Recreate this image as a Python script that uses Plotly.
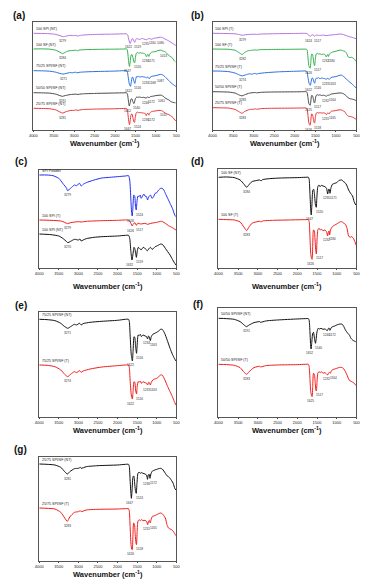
import numpy as np
import plotly.graph_objects as go

W, H = 383, 581

# ---------------- spectra: (wavenumber cm-1, relative transmittance a.u.) ----------------
SPI_POWDER = [(4000,100),(3800,100),(3650,98),(3500,90),(3400,75),(3300,60),(3279,53),(3200,60),
              (3100,70),(3050,68),(2970,75),(2930,67),(2880,72),(2800,77),(2600,85),(2400,91),
              (2200,93),(2000,95),(1800,97),(1720,98),(1690,85),(1660,25),(1640,-15),(1626,-23),
              (1610,0),(1585,40),(1560,35),(1545,10),(1524,-5),(1505,20),(1480,37),(1450,35),
              (1420,40),(1400,30),(1370,35),(1330,43),(1300,37),(1260,35),(1235,25),(1200,35),
              (1160,40),(1120,30),(1080,35),(1040,45),(1000,47),(950,55),(900,60),(860,60),
              (820,55),(780,45),(720,30),(660,15),(600,0),(540,-20),(510,-25)]

SPI_T = [(4000,100),(3700,99),(3450,97),(3350,93),(3279,89),(3200,92),(3000,95),(2930,94),
         (2800,96),(2400,98),(2000,99),(1750,100),(1700,98),(1660,90),(1626,82),(1600,88),
         (1560,92),(1517,84),(1490,90),(1400,88),(1300,90),(1235,87),(1150,90),(1000,93),
         (900,96),(850,95),(780,90),(700,83),(600,77),(510,70)]

SPI_NT = [(4000,100),(3700,98),(3500,94),(3400,87),(3300,77),(3270,74),(3200,78),(3100,84),
          (3000,82),(2960,85),(2930,79),(2880,82),(2800,86),(2600,90),(2400,92),(2000,94),
          (1800,96),(1720,96),(1690,87),(1660,47),(1632,22),(1610,37),(1580,60),(1560,56),
          (1540,42),(1519,30),(1500,47),(1470,60),(1440,57),(1400,52),(1370,57),(1330,60),
          (1290,55),(1235,50),(1200,56),(1160,60),(1120,54),(1080,57),(1040,62),(1000,64),
          (950,67),(900,70),(860,69),(820,64),(780,57),(720,47),(660,37),(600,24),(550,14),(510,7)]

SF_NT = [(4000,100),(3800,101),(3600,99),(3450,92),(3350,79),(3284,70),(3230,77),(3150,87),
         (3050,90),(2950,92),(2920,89),(2880,93),(2700,96),(2400,98),(2000,99),(1800,100),
         (1720,100),(1700,94),(1680,52),(1660,2),(1647,-13),(1630,17),(1605,62),(1585,64),
         (1560,42),(1540,17),(1520,10),(1505,37),(1480,72),(1450,77),(1420,72),(1390,76),
         (1350,74),(1300,72),(1260,67),(1230,50),(1205,64),(1190,64),(1171,52),(1150,67),
         (1110,79),(1050,82),(1000,84),(950,90),(900,92),(870,92),(830,87),(790,84),(750,77),
         (700,62),(650,52),(600,44),(560,27),(520,17)]

SF_T = [(4000,100),(3800,99),(3600,98),(3450,92),(3350,76),(3283,66),(3230,76),(3150,88),
        (3050,92),(2950,94),(2920,92),(2880,95),(2600,97),(2200,98),(1800,99),(1720,99),
        (1700,93),(1680,48),(1660,-2),(1640,-17),(1626,-20),(1610,18),(1590,68),(1570,66),
        (1550,38),(1530,3),(1517,-4),(1500,38),(1480,68),(1450,73),(1420,68),(1390,70),
        (1350,66),(1300,68),(1260,63),(1232,50),(1210,63),(1195,65),(1180,53),(1160,68),
        (1110,78),(1050,83),(1000,86),(950,90),(900,93),(860,92),(820,88),(780,85),(740,73),
        (700,50),(660,46),(620,48),(580,43),(540,33),(510,23)]

B7525_NT = [(4000,100),(3800,99),(3600,96),(3450,88),(3350,78),(3271,73),(3200,78),(3100,85),
            (3050,83),(2970,88),(2930,83),(2880,87),(2700,91),(2400,94),(2000,97),(1800,100),
            (1720,100),(1700,93),(1680,53),(1650,-7),(1622,-25),(1605,3),(1580,48),(1560,45),
            (1540,18),(1516,-2),(1500,23),(1475,53),(1450,51),(1420,55),(1390,48),(1350,53),
            (1300,50),(1260,48),(1234,41),(1210,50),(1190,47),(1163,36),(1140,48),(1100,55),
            (1050,58),(1000,61),(950,65),(900,70),(860,70),(820,63),(780,53),(720,33),(660,13),
            (600,-5),(550,-17),(510,-25)]

B7525_T = [(4000,100),(3800,99),(3600,95),(3450,85),(3350,72),(3274,65),(3200,72),(3100,80),
           (3050,77),(2970,83),(2930,78),(2880,82),(2700,88),(2400,94),(2000,98),(1800,100),
           (1720,100),(1700,92),(1680,55),(1650,10),(1622,-2),(1605,20),(1580,50),(1560,48),
           (1540,25),(1516,13),(1500,35),(1475,50),(1450,48),(1420,52),(1390,45),(1350,50),
           (1300,47),(1260,45),(1233,40),(1210,48),(1190,47),(1163,40),(1140,48),(1100,55),
           (1050,58),(1000,60),(950,65),(900,70),(860,70),(820,62),(780,52),(720,35),(660,20),
           (600,5),(550,-10),(510,-20)]

B5050_NT = [(4000,100),(3800,99),(3600,97),(3450,90),(3350,80),(3291,75),(3220,80),(3100,87),
            (2950,90),(2930,88),(2800,92),(2500,95),(2000,98),(1800,99),(1720,99),(1700,94),
            (1680,60),(1665,25),(1652,8),(1635,25),(1610,55),(1590,58),(1565,40),(1540,25),
            (1525,35),(1500,60),(1470,70),(1440,68),(1400,70),(1350,67),(1300,68),(1240,63),
            (1210,70),(1190,70),(1172,64),(1140,72),(1100,75),(1050,77),(1000,80),(950,82),
            (900,83),(860,82),(820,75),(780,65),(720,55),(680,50),(640,40),(600,35),(560,32),(520,30)]

B5050_T = [(4000,100),(3800,99),(3600,97),(3450,90),(3350,76),(3283,70),(3220,78),(3100,90),
           (2950,94),(2930,92),(2800,96),(2500,98),(2000,99),(1800,100),(1720,100),(1700,93),
           (1680,58),(1660,18),(1640,6),(1625,3),(1610,33),(1590,73),(1570,71),(1545,43),
           (1530,23),(1517,20),(1500,48),(1480,73),(1450,78),(1420,75),(1390,78),(1350,73),
           (1300,75),(1260,71),(1232,68),(1210,73),(1190,76),(1164,73),(1140,80),(1100,84),
           (1050,86),(1000,88),(950,90),(900,91),(860,90),(820,86),(780,78),(740,68),(700,56),
           (660,50),(620,48),(580,45),(540,41),(510,36)]

B2575_NT = [(4000,100),(3800,99),(3600,97),(3450,90),(3350,77),(3281,70),(3220,77),(3100,86),
            (3000,87),(2950,90),(2930,87),(2800,92),(2500,95),(2000,97),(1800,99),(1720,99),
            (1700,92),(1680,52),(1660,12),(1647,-3),(1630,22),(1605,62),(1585,64),(1560,37),
            (1540,17),(1524,12),(1505,42),(1480,72),(1450,76),(1420,72),(1390,74),(1350,72),
            (1300,70),(1260,67),(1236,54),(1215,67),(1195,69),(1172,57),(1150,70),(1110,79),
            (1050,82),(1000,84),(950,86),(900,87),(860,85),(820,79),(780,72),(740,65),(700,62),
            (660,57),(620,50),(580,42),(540,27),(510,22)]

B2575_T = [(4000,100),(3800,99),(3600,97),(3450,87),(3350,70),(3283,60),(3220,73),(3100,87),
           (3000,89),(2950,92),(2930,89),(2800,94),(2500,96),(2000,97),(1800,98),(1720,98),
           (1700,90),(1680,45),(1660,-5),(1640,-23),(1626,-25),(1610,10),(1590,55),(1570,52),
           (1550,20),(1530,-5),(1518,-10),(1500,30),(1480,60),(1450,65),(1420,62),(1390,65),
           (1350,62),(1300,63),(1260,60),(1231,50),(1210,60),(1190,63),(1165,55),(1145,65),
           (1110,75),(1050,77),(1000,80),(950,83),(900,85),(860,83),(820,77),(780,70),(740,50),
           (700,40),(660,37),(620,35),(580,30),(540,23),(510,17)]

SPECTRA = {"spi_powder": SPI_POWDER, "spi_t": SPI_T, "spi_nt": SPI_NT,
           "sf_nt": SF_NT, "sf_t": SF_T, "b7525_nt": B7525_NT, "b7525_t": B7525_T,
           "b5050_nt": B5050_NT, "b5050_t": B5050_T, "b2575_nt": B2575_NT, "b2575_t": B2575_T}

# ---------------- curve names and peak labels ----------------
NAMES = {"spi_powder": "SPI Powder", "spi_t": "100 SPI (T)", "spi_nt": "100 SPI (NT)",
         "sf_nt": "100 SF (NT)", "sf_t": "100 SF (T)",
         "b7525_nt": "75/25 SPI/SF (NT)", "b7525_t": "75/25 SPI/SF (T)",
         "b5050_nt": "50/50 SPI/SF (NT)", "b5050_t": "50/50 SPI/SF (T)",
         "b2575_nt": "25/75 SPI/SF (NT)", "b2575_t": "25/75 SPI/SF (T)"}

PEAKS_A = {"spi_nt": [3279, 1622, 1519, 1235, 1160, 1080],
           "sf_nt": [3284, 1647, 1520, 1230, 1171, 1013],
           "b7525_nt": [3271, 1622, 1516, 1234, 1168, 1087],
           "b5050_nt": [3291, 1652, 1540, 1240, 1172, 1061],
           "b2575_nt": [3281, 1647, 1524, 1236, 1172, 1011]}
PEAKS_B = {"spi_t": [3279, 1624, 1517],
           "sf_t": [3282, 1626, 1517, 1232, 1180],
           "b7525_t": [3274, 1622, 1516, 1233, 1163],
           "b5050_t": [3283, 1625, 1517, 1232, 1164],
           "b2575_t": [3283, 1626, 1518, 1231, 1165]}
PEAKS_C = {"spi_powder": [3279, 1626, 1524], "spi_t": [3279, 1626, 1517], "spi_nt": [3270, 1632, 1519]}
PEAKS_D = {"sf_nt": [3284, 1647, 1520, 1230, 1171], "sf_t": [3283, 1626, 1517, 1232, 1180]}
PEAKS_E = {"b7525_nt": [3271, 1622, 1516, 1234, 1163], "b7525_t": [3274, 1622, 1516, 1233, 1163]}
PEAKS_F = {"b5050_nt": [3291, 1652, 1540, 1240, 1172], "b5050_t": [3283, 1625, 1517, 1232, 1164]}
PEAKS_G = {"b2575_nt": [3281, 1647, 1524, 1236, 1172], "b2575_t": [3283, 1626, 1518, 1231, 1165]}

X_TICKS = [4000, 3500, 3000, 2500, 2000, 1500, 1000, 500]
X_TITLE = "Wavenumber (cm<sup>-1</sup>)"

# ---------------- styling / layout ----------------
PURPLE, GREEN, BLUE, GRAY, RED = "#b273e0", "#33b050", "#2b6fe0", "#4a4a4a", "#e8383b"
BLUE2, RED2, BLACK = "#1f2ff0", "#f01c1c", "#111111"
FONT = "Liberation Sans"

# panel: letter, box (l, t, r, b) px, letter pos, title y, curves (key, colour, start px, px per unit)
PANELS = [
    ("(a)", (30, 22, 176, 130), (15, 15), 143, PEAKS_A,
     [("spi_nt", PURPLE, 33.3, 0.13), ("sf_nt", GREEN, 49, 0.155), ("b7525_nt", BLUE, 70.7, 0.125),
      ("b5050_nt", GRAY, 92.7, 0.145), ("b2575_nt", RED, 108.3, 0.16)]),
    ("(b)", (213, 22, 360, 130), (198, 15), 143, PEAKS_B,
     [("spi_t", PURPLE, 33.3, 0.18), ("sf_t", GREEN, 49, 0.16), ("b7525_t", BLUE, 71, 0.14),
      ("b5050_t", GRAY, 91.7, 0.14), ("b2575_t", RED, 107.7, 0.14)]),
    ("(c)", (36, 170, 176, 268), (17, 161), 286, PEAKS_C,
     [("spi_powder", BLUE2, 175, 1/3), ("spi_t", RED2, 220, 1/3), ("spi_nt", BLACK, 234, 1/3)]),
    ("(d)", (219, 169, 360, 268), (198, 161), 286, PEAKS_D,
     [("sf_nt", BLACK, 177.3, 1/3), ("sf_t", RED2, 219.3, 1/3)]),
    ("(e)", (36, 312, 176, 417), (17, 305), 430, PEAKS_E,
     [("b7525_nt", BLACK, 319.3, 1/3), ("b7525_t", RED2, 365, 1/3)]),
    ("(f)", (219, 308, 360, 417), (198, 304), 430, PEAKS_F,
     [("b5050_nt", BLACK, 318.3, 1/3), ("b5050_t", RED2, 364.3, 1/3)]),
    ("(g)", (36, 457, 176, 561), (17, 449), 574, PEAKS_G,
     [("b2575_nt", BLACK, 464, 1/3), ("b2575_t", RED2, 508, 1/3)]),
]
PEAK_XSHIFT = [0, -2, 3, -1, 3, 8]

fig = go.Figure()
layout = {}
annotations = []
for i, (letter, (l, t, r, b), (lx, ly), ty, peaks, curves) in enumerate(PANELS):
    n = i + 1
    xa, ya = ("x", "y") if n == 1 else (f"x{n}", f"y{n}")
    layout["xaxis" if n == 1 else f"xaxis{n}"] = dict(
        domain=[l / W, r / W], range=[4000, 500], anchor=ya, tickvals=X_TICKS,
        ticks="outside", ticklen=1.5, tickwidth=0.6, tickcolor="#444",
        tickfont=dict(size=4, family=FONT, color="#222"),
        showline=True, mirror=True, linecolor="#555", linewidth=0.8,
        showgrid=False, zeroline=False, fixedrange=True)
    layout["yaxis" if n == 1 else f"yaxis{n}"] = dict(
        domain=[1 - b / H, 1 - t / H], range=[-b, -t], anchor=xa,
        showticklabels=False, ticks="", showline=True, mirror=True,
        linecolor="#555", linewidth=0.8, showgrid=False, zeroline=False, fixedrange=True)

    for key, color, start, s in curves:
        pts = SPECTRA[key]
        wn = np.array([p[0] for p in pts], dtype=float)
        tv = np.array([p[1] for p in pts], dtype=float)
        y = -(start + s * (100 - tv))
        fig.add_trace(go.Scatter(x=wn, y=y, mode="lines", xaxis=xa, yaxis=ya,
                                 line=dict(color=color, width=1, shape="spline", smoothing=0.6),
                                 showlegend=False, hoverinfo="skip"))
        annotations.append(dict(x=3985, y=y[0], xref=xa, yref=ya, text=NAMES[key],
                                xanchor="left", yanchor="bottom", yshift=0.4, showarrow=False,
                                font=dict(size=3.6, family=FONT, color="#222")))
        for j, pk in enumerate(peaks[key]):
            py = float(np.interp(pk, wn[::-1], y[::-1]))
            annotations.append(dict(x=pk, y=py, xref=xa, yref=ya, text=str(pk),
                                    xanchor="center", yanchor="top", yshift=-0.5,
                                    xshift=PEAK_XSHIFT[j], showarrow=False,
                                    font=dict(size=3.2, family=FONT, color="#333")))

    annotations.append(dict(x=lx / W, y=1 - ly / H, xref="paper", yref="paper", text=letter,
                            xanchor="center", yanchor="middle", showarrow=False,
                            font=dict(size=10, family=FONT, color="#111", weight="bold")))
    annotations.append(dict(x=(l + r) / 2 / W, y=1 - ty / H, xref="paper", yref="paper",
                            text=X_TITLE, xanchor="center", yanchor="middle",
                            showarrow=False, font=dict(size=7.5, family=FONT, color="#111", weight="bold")))

fig.update_layout(width=W, height=H, margin=dict(l=0, r=0, t=0, b=0),
                  paper_bgcolor="white", plot_bgcolor="white", annotations=annotations, **layout)
fig.write_html("out.html", config={"displayModeBar": False},
               post_script="document.body.style.margin='0';document.body.style.overflow='hidden';")
